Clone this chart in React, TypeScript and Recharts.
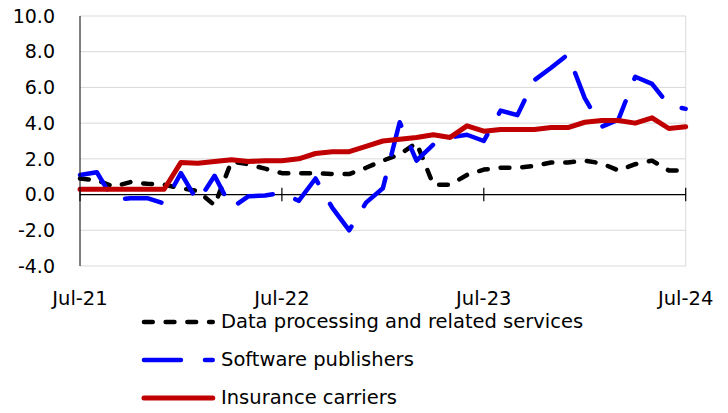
import React from 'react';
import { LineChart, Line, XAxis, YAxis, CartesianGrid, ReferenceLine, Legend } from 'recharts';

const months = [
  'Jul-21', 'Aug-21', 'Sep-21', 'Oct-21', 'Nov-21', 'Dec-21', 'Jan-22', 'Feb-22', 'Mar-22', 'Apr-22', 'May-22', 'Jun-22',
  'Jul-22', 'Aug-22', 'Sep-22', 'Oct-22', 'Nov-22', 'Dec-22', 'Jan-23', 'Feb-23', 'Mar-23', 'Apr-23', 'May-23', 'Jun-23',
  'Jul-23', 'Aug-23', 'Sep-23', 'Oct-23', 'Nov-23', 'Dec-23', 'Jan-24', 'Feb-24', 'Mar-24', 'Apr-24', 'May-24', 'Jun-24',
  'Jul-24',
];

const dataProcessing = [
  0.9, 0.8, 0.45, 0.7, 0.6, 0.55, 0.35, 0.2, -0.6, 1.85, 1.7, 1.45,
  1.2, 1.2, 1.2, 1.15, 1.15, 1.5, 1.9, 2.25, 2.9, 0.55, 0.55, 1.1,
  1.4, 1.5, 1.5, 1.6, 1.8, 1.8, 1.9, 1.75, 1.35, 1.7, 1.9, 1.35,
  1.35,
];

const softwarePublishers = [
  1.1, 1.25, -0.3, -0.2, -0.2, -0.5, 1.2, -0.4, 1.05, -0.75, -0.1, -0.05,
  0.1, -0.35, 0.9, -0.75, -2.0, -0.45, 0.35, 4.05, 1.9, 2.8, 3.2, 3.35,
  3.0, 4.7, 4.45, 6.4, 7.1, 7.85, 5.4, 3.8, 4.2, 6.6, 6.2, 5.0,
  4.8,
];

const insuranceCarriers = [
  0.3, 0.3, 0.3, 0.3, 0.3, 0.3, 1.8, 1.75, 1.85, 1.95, 1.85, 1.9,
  1.9, 2.0, 2.3, 2.4, 2.4, 2.7, 3.0, 3.1, 3.2, 3.35, 3.2, 3.85,
  3.55, 3.65, 3.65, 3.65, 3.75, 3.75, 4.05, 4.15, 4.15, 4.0, 4.3, 3.7,
  3.8,
];

const xTicks = ['Jul-21', 'Jul-22', 'Jul-23', 'Jul-24'];
const yTicks = [-4, -2, 0, 2, 4, 6, 8, 10];

const seriesNames = ['Data processing and related services', 'Software publishers', 'Insurance carriers'];

const FONT = '"DejaVu Sans", sans-serif';

const series = [
  { key: 'dp', name: seriesNames[0], color: '#000000', width: 4.5, dash: '8.8 12.9' },
  { key: 'sp', name: seriesNames[1], color: '#0000ff', width: 4.5, dash: '37 24' },
  { key: 'ic', name: seriesNames[2], color: '#c00000', width: 5, dash: undefined as string | undefined },
];

const data = months.map((m, i) => ({
  month: m,
  dp: dataProcessing[i],
  sp: softwarePublishers[i],
  ic: insuranceCarriers[i],
}));

function LegendContent() {
  return (
    <div style={{ fontFamily: FONT, fontSize: 19.5, color: '#000' }}>
      {series.map((s) => (
        <div key={s.key} style={{ display: 'flex', alignItems: 'center', height: 38.3 }}>
          <svg width={78} height={10} style={{ display: 'block', flex: 'none' }}>
            <line
              x1={3.95}
              y1={5}
              x2={72.75}
              y2={5}
              stroke={s.color}
              strokeWidth={s.width}
              strokeDasharray={s.dash}
              strokeLinecap="round"
            />
          </svg>
          <span style={{ marginLeft: 3, whiteSpace: 'nowrap', lineHeight: 1 }}>{s.name}</span>
        </div>
      ))}
    </div>
  );
}

export default function App() {
  return (
    <div style={{ position: 'absolute', left: 0, top: 0, width: 728, height: 413, background: '#fff' }}>
      <LineChart
        width={728}
        height={413}
        data={data}
        margin={{ top: 16, right: 42.3, left: 0, bottom: 117 }}
      >
        <CartesianGrid horizontal vertical={false} stroke="#d9d9d9" strokeWidth={1} />
        <XAxis
          dataKey="month"
          ticks={xTicks}
          interval={0}
          axisLine={false}
          tickLine={false}
          tickSize={0}
          tickMargin={25}
          height={30}
          tick={{ fill: '#000', fontSize: 19.5, fontFamily: FONT }}
        />
        <YAxis
          domain={[-4, 10]}
          ticks={yTicks}
          type="number"
          width={80}
          axisLine={{ stroke: '#000', strokeWidth: 1 }}
          tickLine={false}
          tickSize={0}
          tickMargin={25}
          tickFormatter={(v: number) => v.toFixed(1)}
          tick={{ fill: '#000', fontSize: 19, fontFamily: FONT }}
        />
        <ReferenceLine x={xTicks[3]} stroke="#d9d9d9" strokeWidth={1} />
        <ReferenceLine y={0} stroke="#000" strokeWidth={1.2} />
        {xTicks.map((t) => (
          <ReferenceLine
            key={t}
            segment={[{ x: t, y: -0.38 }, { x: t, y: 0.38 }]}
            stroke="#000"
            strokeWidth={1.2}
          />
        ))}
        {series.map((s) => (
          <Line
            key={s.key}
            type="linear"
            dataKey={s.key}
            name={s.name}
            stroke={s.color}
            strokeWidth={s.width}
            strokeDasharray={s.dash}
            strokeLinecap="round"
            strokeLinejoin="round"
            dot={false}
            activeDot={false}
            isAnimationActive={false}
          />
        ))}
        <Legend
          layout="vertical"
          align="center"
          verticalAlign="middle"
          content={<LegendContent />}
          wrapperStyle={{ top: 302.5, left: 140, width: 520, height: 'auto' }}
        />
      </LineChart>
    </div>
  );
}
